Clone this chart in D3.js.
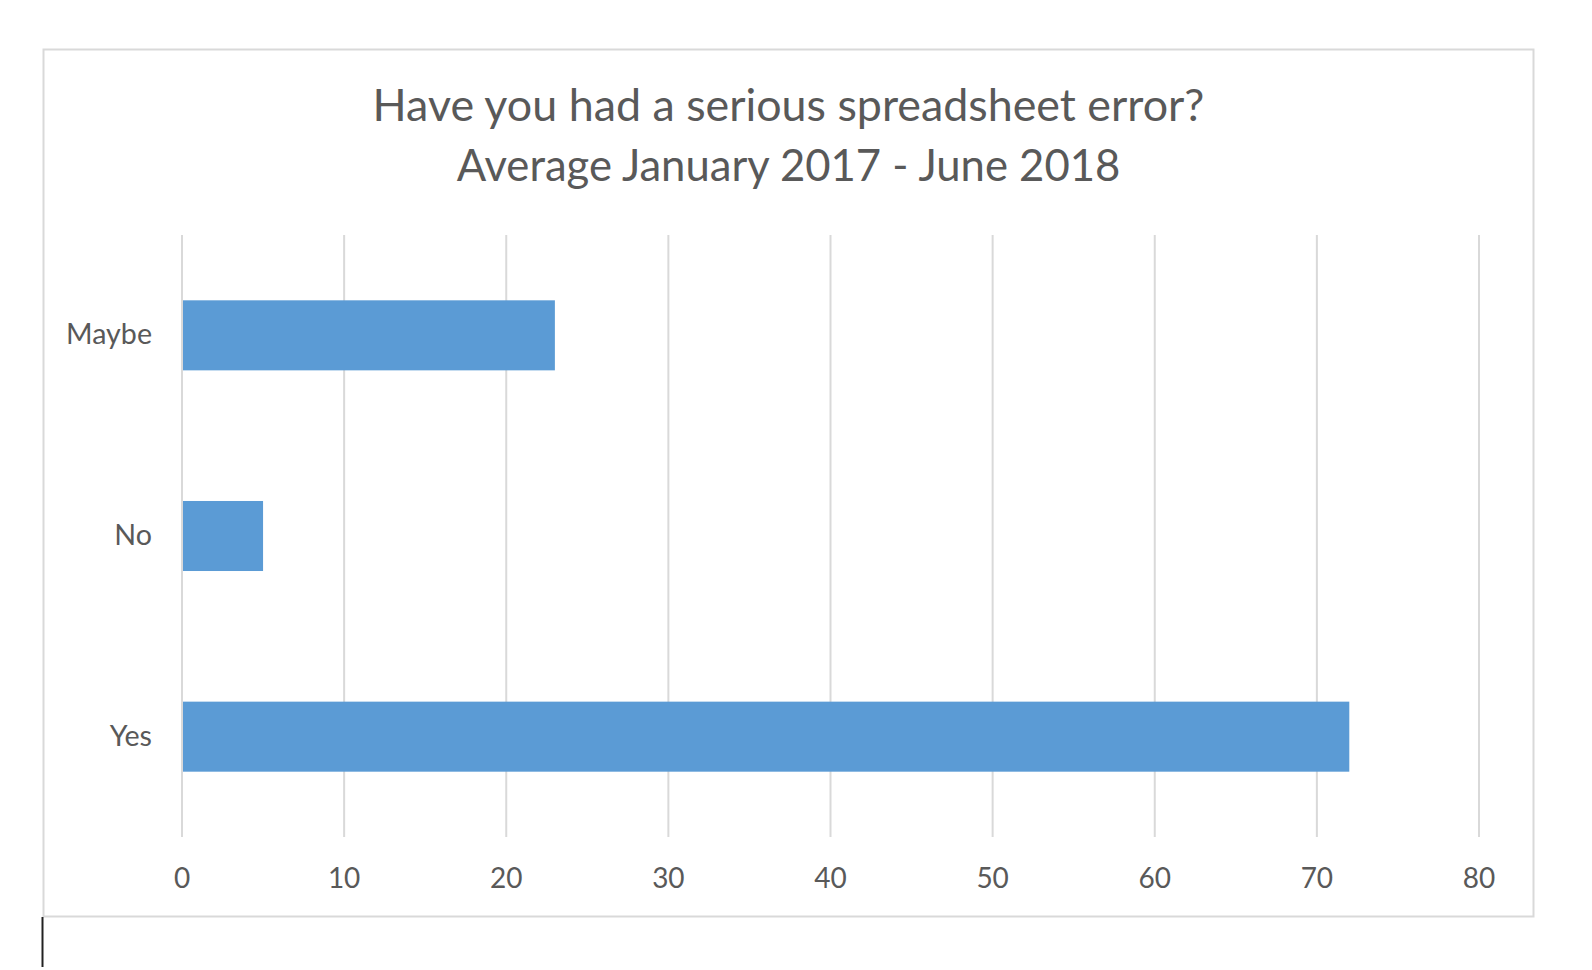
<!DOCTYPE html>
<html>
<head>
<meta charset="utf-8">
<script src="https://cdn.jsdelivr.net/npm/d3@7"></script>
<style>
	body { margin: 0; background: #fff; }
	svg { display: block; }
	text { font-family: Lato, "Open Sans", sans-serif; fill: #595959; }
</style>
</head>
<body>
<svg></svg>
<script>
const categories = ['Maybe', 'No', 'Yes'];
const values = [23, 5, 72];
const xTicks = [0, 10, 20, 30, 40, 50, 60, 70, 80];
const titleLines = ['Have you had a serious spreadsheet error?', 'Average January 2017 - June 2018'];

const width = 1592;
const height = 970;

const svg = d3.select('svg')
	.attr('width', width)
	.attr('height', height);

// chart area frame
svg.append('rect')
	.attr('x', 43.5)
	.attr('y', 49.5)
	.attr('width', 1490)
	.attr('height', 867)
	.attr('fill', '#fff')
	.attr('stroke', '#d9d9d9')
	.attr('stroke-width', 2);

const x = d3.scaleLinear()
	.domain([0, 80])
	.range([182, 1479]);

const y = d3.scaleBand()
	.domain(categories)
	.range([235, 837])
	.paddingInner(0.651)
	.paddingOuter(0.3255);

// gridlines
svg.append('g')
	.selectAll('line')
	.data(xTicks)
	.enter().append('line')
		.attr('x1', d => x(d))
		.attr('x2', d => x(d))
		.attr('y1', 235)
		.attr('y2', 837)
		.attr('stroke', '#d9d9d9')
		.attr('stroke-width', 2);

// bars
svg.append('g')
	.selectAll('rect')
	.data(categories)
	.enter().append('rect')
		.attr('x', x(0) + 1)
		.attr('y', d => y(d))
		.attr('width', (d, i) => x(values[i]) - x(0) - 1)
		.attr('height', y.bandwidth())
		.attr('fill', '#5b9bd5');

// x tick labels
svg.append('g')
	.selectAll('text')
	.data(xTicks)
	.enter().append('text')
		.text(d => d)
		.attr('x', d => x(d))
		.attr('y', 888)
		.attr('font-size', 28)
		.attr('text-anchor', 'middle');

// category labels
const catLabels = svg.append('g')
	.selectAll('text')
	.data(categories)
	.enter().append('text')
		.text(d => d)
		.attr('x', 152)
		.attr('y', d => y(d) + y.bandwidth() / 2 + 9)
		.attr('text-anchor', 'end');

// title
const title = svg.append('g')
	.selectAll('text')
	.data(titleLines)
	.enter().append('text')
		.text(d => d)
		.attr('x', 788.5)
		.attr('y', (d, i) => 121 + i * 60)
		.attr('text-anchor', 'middle');

// size fonts so the text widths match the original rendering
function fitSize(sel, target) {
	sel.attr('font-size', 20);
	const w = sel.node().getComputedTextLength();
	sel.attr('font-size', 20 * target / w);
}
const titleWidths = [832, 664];
title.each(function (d, i) { fitSize(d3.select(this), titleWidths[i]); });
fitSize(catLabels, 86);

// text caret left below the chart
svg.append('line')
	.attr('x1', 42.5)
	.attr('x2', 42.5)
	.attr('y1', 917)
	.attr('y2', 967)
	.attr('stroke', '#222')
	.attr('stroke-width', 2);
</script>
</body>
</html>
